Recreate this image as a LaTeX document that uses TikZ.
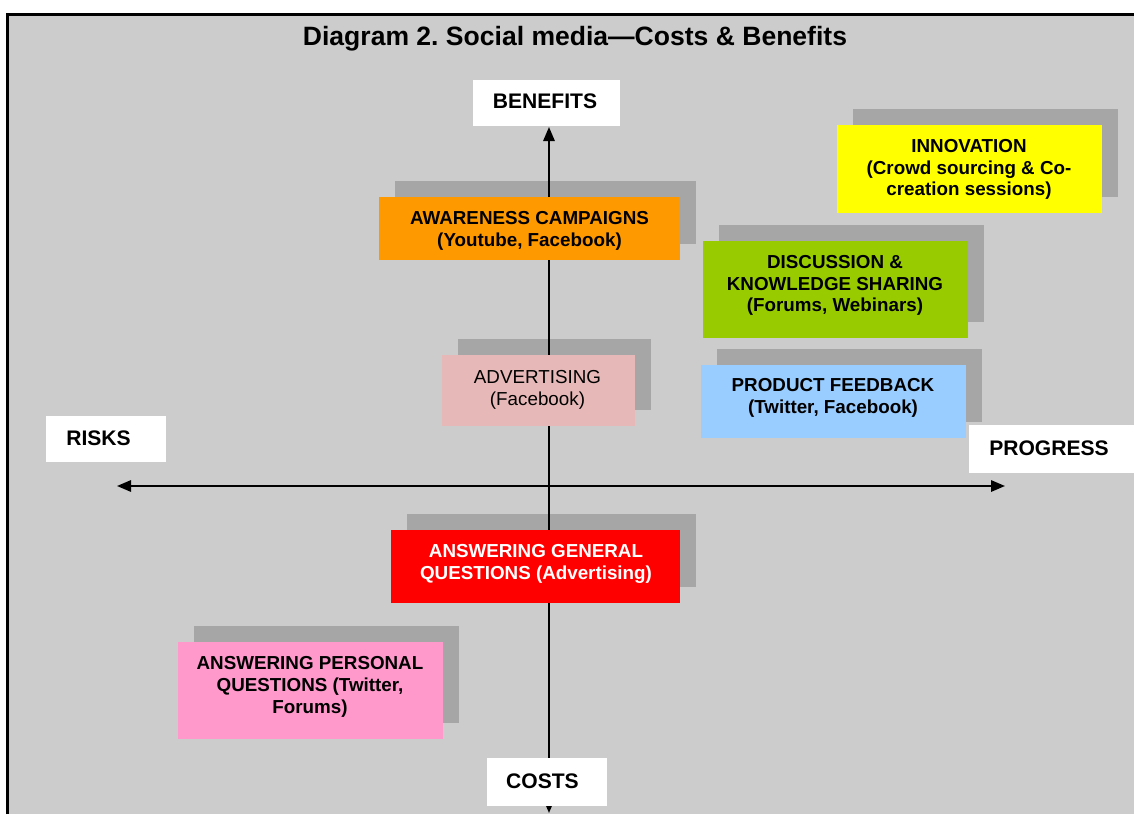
\documentclass[tikz,border=0pt]{standalone}
\usepackage{fontspec}
\setmainfont{Liberation Sans}
\usetikzlibrary{arrows.meta}

\definecolor{panel}{HTML}{CCCCCC}
\definecolor{cShadow}{HTML}{A6A6A6}
\definecolor{cOrange}{HTML}{FF9900}
\definecolor{cYellow}{HTML}{FFFF00}
\definecolor{cGreen}{HTML}{99CC00}
\definecolor{cBlue}{HTML}{99CCFF}
\definecolor{cRose}{HTML}{E6B9B8}
\definecolor{cRed}{HTML}{FF0000}
\definecolor{cPink}{HTML}{FF99CC}

\tikzset{
  txt/.style={align=center, inner sep=0pt,
    font=\fontsize{14.1pt}{16.4pt}\selectfont\bfseries},
  axistxt/.style={inner sep=0pt,
    font=\fontsize{15.8pt}{18pt}\selectfont\bfseries},
  axislabel/.style={fill=white, inner sep=0pt, anchor=north west},
  axisarrow/.style={line width=1.5pt,
    {Triangle[length=10.5pt,width=8.5pt]}-{Triangle[length=10.5pt,width=8.5pt]}},
}

% card shadow and card face: left, top, width, height
\newcommand{\cardshadow}[4]{%
  \fill[cShadow] (#1+16,#2-16) rectangle ++(#3,#4);}
\newcommand{\cardface}[5]{%
  \fill[#1] (#2,#3) rectangle ++(#4,#5);}

\begin{document}
\begin{tikzpicture}[x=0.75pt,y=-0.75pt]
\useasboundingbox (0,0) rectangle (1134,814);

% panel and frame
\fill[panel] (7,14) rectangle (1134,814);
\draw[line width=2.25pt] (7,814) -- (7,14) -- (1134,14);

\node[font=\fontsize{19.9pt}{22pt}\selectfont\bfseries, inner sep=0pt] (title) at (575,39)
  {Diagram 2.\ Social media---Costs \& Benefits};

% card shadows
\cardshadow{379}{197}{301}{63}
\cardshadow{837}{125}{265}{88}
\cardshadow{703}{241}{265}{97}
\cardshadow{701}{365}{265}{73}
\cardshadow{442}{355}{193}{71}
\cardshadow{391}{530}{289}{73}
\cardshadow{178}{642}{265}{97}

% axes
\coordinate (top) at (549,127);
\coordinate (bottom) at (549,813);
\coordinate (left) at (117,486);
\coordinate (right) at (1005,486);
\draw[axisarrow] (bottom) -- (top);
\draw[axisarrow] (left) -- (right);

% card faces
\cardface{cOrange}{379}{197}{301}{63}
\cardface{cYellow}{837}{125}{265}{88}
\cardface{cGreen}{703}{241}{265}{97}
\cardface{cBlue}{701}{365}{265}{73}
\cardface{cRose}{442}{355}{193}{71}
\cardface{cRed}{391}{530}{289}{73}
\cardface{cPink}{178}{642}{265}{97}

% card texts
\node[txt] (aware) at (529.5,230.5) {AWARENESS CAMPAIGNS\\(Youtube, Facebook)};
\node[txt] (innov) at (969,169.5) {INNOVATION\\(Crowd sourcing \& Co-\\creation sessions)};
\node[txt] (discuss) at (835,285.5) {DISCUSSION \&\\KNOWLEDGE SHARING\\(Forums, Webinars)};
\node[txt] (feedback) at (833,398) {PRODUCT FEEDBACK\\(Twitter, Facebook)};
\node[txt, font=\fontsize{14.1pt}{16.4pt}\selectfont\mdseries] (advert) at (537.5,389.5) {ADVERTISING\\(Facebook)};
\node[txt, text=white] (general) at (536,564) {ANSWERING GENERAL\\QUESTIONS (Advertising)};
\node[txt] (personal) at (310,687) {ANSWERING PERSONAL\\QUESTIONS (Twitter,\\Forums)};

% axis labels
\node[axislabel, minimum width=147*0.75pt, minimum height=46*0.75pt] (benefitsbox) at (473,80) {};
\node[axistxt] (benefits) at (545,101.5) {BENEFITS};
\node[axislabel, minimum width=120*0.75pt, minimum height=48*0.75pt] (costsbox) at (487,758) {};
\node[axistxt] (costs) at (542.5,781.5) {COSTS};
\node[axislabel, minimum width=120*0.75pt, minimum height=46*0.75pt] (risksbox) at (46,416) {};
\node[axistxt] (risks) at (98.5,438.5) {RISKS};
\node[axislabel, minimum width=165*0.75pt, minimum height=48*0.75pt] (progressbox) at (969,425) {};
\node[axistxt] (progress) at (1049,448) {PROGRESS};
\end{tikzpicture}
\end{document}
